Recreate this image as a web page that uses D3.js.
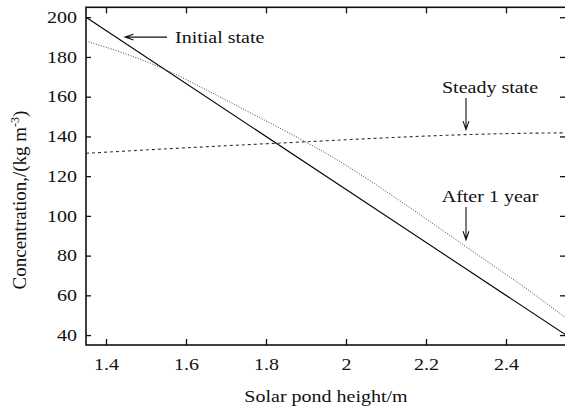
<!DOCTYPE html>
<html>
<head>
<meta charset="utf-8">
<script src="https://cdn.jsdelivr.net/npm/d3@7"></script>
<style>
  body { margin: 0; background: #fff; }
  text { font-family: "Liberation Serif", "Times New Roman", serif; fill: #111; }
</style>
</head>
<body>
<div id="chart"></div>
<script>
// data
var initialH = [1.35, 2.55];
var initialC = [200, 40];

var steadyH = [1.35, 1.5, 1.7, 1.9, 2.1, 2.3, 2.45, 2.55];
var steadyC = [131.5, 133.2, 135.3, 137.3, 139.3, 140.9, 141.6, 141.8];

var yearH = [1.35, 1.45, 1.55, 1.65, 1.75, 1.85, 1.95, 2.05, 2.15, 2.25, 2.35, 2.45, 2.55];
var yearC = [188, 181.5, 173.5, 163.5, 153, 142.5, 131.5, 119, 105.5, 91.5, 77.5, 63.5, 48.5];

var xTicks = [1.4, 1.6, 1.8, 2, 2.2, 2.4];
var yTicks = [40, 60, 80, 100, 120, 140, 160, 180, 200];

var W = 565, H = 408;
var margin = {top: 7.3, right: -1, bottom: 63, left: 86};
var w = W - margin.left - margin.right,
    h = H - margin.top - margin.bottom;
var sx = 1.25; // glyphs in the picture are a bit wide

var x = d3.scaleLinear().domain([1.35, 2.55]).range([0, w]);
var y = d3.scaleLinear().domain([35, 205]).range([h, 0]);

var svg = d3.select("#chart").append("svg")
    .attr("width", W)
    .attr("height", H)
  .append("g")
    .attr("transform", "translate(" + margin.left + "," + margin.top + ")");

// axes, ticks pointing inward on all four sides
var gx = svg.append("g")
    .attr("transform", "translate(0," + h + ")")
    .call(d3.axisBottom(x).tickValues(xTicks).tickFormat(d3.format("")).tickSizeInner(-6).tickSizeOuter(0).tickPadding(14));
gx.selectAll("text").attr("transform", "scale(" + sx + ",1)");

var gy = svg.append("g")
    .call(d3.axisLeft(y).tickValues(yTicks).tickSizeInner(-5).tickSizeOuter(0));
gy.selectAll("text").attr("x", -9 / sx).attr("transform", "scale(" + sx + ",1)");

svg.append("g")
    .call(d3.axisTop(x).tickValues(xTicks).tickFormat("").tickSizeInner(-6).tickSizeOuter(0));
svg.append("g")
    .attr("transform", "translate(" + w + ",0)")
    .call(d3.axisRight(y).tickValues(yTicks).tickFormat("").tickSizeInner(-6).tickSizeOuter(0));

svg.selectAll(".domain").remove();
svg.selectAll(".tick line").attr("stroke", "#111").attr("stroke-width", 1.3);
svg.selectAll(".tick text").attr("font-size", 16).attr("fill", "#111")
    .attr("font-family", "'Liberation Serif', 'Times New Roman', serif");

svg.append("rect")
    .attr("width", w).attr("height", h)
    .attr("fill", "none").attr("stroke", "#111").attr("stroke-width", 1.6);

// curves
var line = d3.line()
    .x(function(d) { return x(d[0]); })
    .y(function(d) { return y(d[1]); })
    .curve(d3.curveMonotoneX);

svg.append("path")
    .datum(d3.zip(initialH, initialC))
    .attr("d", line)
    .attr("fill", "none").attr("stroke", "#000").attr("stroke-width", 1.1);

svg.append("path")
    .datum(d3.zip(steadyH, steadyC))
    .attr("d", line)
    .attr("fill", "none").attr("stroke", "#333").attr("stroke-width", 1.1)
    .attr("stroke-dasharray", "3,3");

svg.append("path")
    .datum(d3.zip(yearH, yearC))
    .attr("d", line)
    .attr("fill", "none").attr("stroke", "#444").attr("stroke-width", 1)
    .attr("stroke-dasharray", "1,1.6");

// annotations
function label(txt, px, py, anchor) {
    svg.append("text")
        .attr("transform", "translate(" + px + "," + py + ") scale(" + sx + ",1)")
        .attr("text-anchor", anchor)
        .attr("font-size", 16)
        .text(txt);
}

function arrow(x1, y1, x2, y2) {
    var a = Math.atan2(y2 - y1, x2 - x1), L = 9, s = 0.33;
    var p = d3.path();
    p.moveTo(x1, y1); p.lineTo(x2, y2);
    p.moveTo(x2 - L * Math.cos(a - s), y2 - L * Math.sin(a - s));
    p.lineTo(x2, y2);
    p.lineTo(x2 - L * Math.cos(a + s), y2 - L * Math.sin(a + s));
    svg.append("path").attr("d", p.toString())
        .attr("fill", "none").attr("stroke", "#111").attr("stroke-width", 1.1);
}

label("Initial state", x(1.5725), y(187), "start");
arrow(x(1.5525), y(190), x(1.4475), y(190));

label("Steady state", x(2.36), y(161.8), "middle");
arrow(x(2.3), y(159.3), x(2.3), y(143.4));

label("After 1 year", x(2.36), y(107), "middle");
arrow(x(2.3), y(104.5), x(2.3), y(88));

// axis titles
svg.append("text")
    .attr("transform", "translate(" + (w / 2) + "," + (h + 57) + ") scale(" + sx + ",1)")
    .attr("text-anchor", "middle")
    .attr("font-size", 16)
    .text("Solar pond height/m");

var yl = svg.append("text")
    .attr("transform", "translate(" + (26 - margin.left) + "," + (200 - margin.top) + ") rotate(-90)")
    .attr("text-anchor", "middle")
    .attr("font-size", 19);
yl.append("tspan").text("Concentration,/(kg m");
yl.append("tspan").attr("font-size", 12).attr("dy", -7).text("-3");
yl.append("tspan").attr("dy", 7).text(")");
</script>
</body>
</html>
